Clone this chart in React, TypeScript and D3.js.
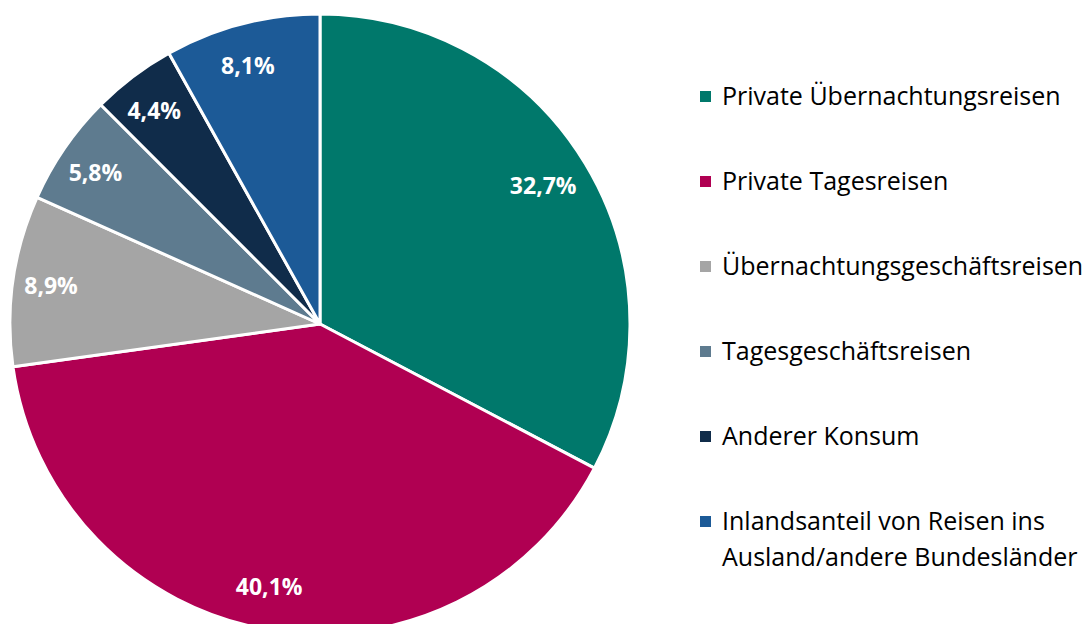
import React, { useEffect, useRef } from 'react'
import * as d3 from 'd3'

const categories = [
  'Private Übernachtungsreisen',
  'Private Tagesreisen',
  'Übernachtungsgeschäftsreisen',
  'Tagesgeschäftsreisen',
  'Anderer Konsum',
  'Inlandsanteil von Reisen ins Ausland/andere Bundesländer',
]
const shares = [32.7, 40.1, 8.9, 5.8, 4.4, 8.1]
const labels = ['32,7%', '40,1%', '8,9%', '5,8%', '4,4%', '8,1%']
const legendLines = [
  ['Private Übernachtungsreisen'],
  ['Private Tagesreisen'],
  ['Übernachtungsgeschäftsreisen'],
  ['Tagesgeschäftsreisen'],
  ['Anderer Konsum'],
  ['Inlandsanteil von Reisen ins', 'Ausland/andere Bundesländer'],
]
const colors = ['#00786B', '#B00052', '#A5A5A5', '#5E7B8F', '#102C4A', '#1C5A97']

const App = () => {
  const svgRef = useRef(null)

  useEffect(() => {
    const width = 1089
    const height = 624
    const cx = 320
    const cy = 324
    const radius = 310
    const fontFamily = '"Open Sans", Lato, sans-serif'

    const svgElement = d3.select(svgRef.current)
    svgElement.selectAll('*').remove()
    const svg = svgElement.attr('width', width).attr('height', height)

    const data = categories.map((c, i) => ({ name: c, value: shares[i], label: labels[i], color: colors[i] }))

    const pie = d3.pie().value((d) => d.value).sort(null)
    const arc = d3.arc().innerRadius(0).outerRadius(radius)
    const labelArc = d3.arc().innerRadius(radius * 0.86).outerRadius(radius * 0.86)

    const g = svg.append('g').attr('transform', `translate(${cx},${cy})`)
    const arcs = pie(data)

    g.selectAll('path')
      .data(arcs)
      .enter()
      .append('path')
      .attr('d', arc)
      .attr('fill', (d) => d.data.color)
      .attr('stroke', '#fff')
      .attr('stroke-width', 3)
      .attr('stroke-linejoin', 'round')

    g.selectAll('text.lbl')
      .data(arcs)
      .enter()
      .append('text')
      .attr('class', 'lbl')
      .attr('transform', (d) => {
        const [x, y] = labelArc.centroid(d)
        return `translate(${x - 5},${y})`
      })
      .attr('text-anchor', 'middle')
      .attr('dy', '0.35em')
      .style('font-family', fontFamily)
      .style('font-weight', 700)
      .style('font-size', '23px')
      .style('fill', '#fff')
      .text((d) => d.data.label)

    const legend = svg.append('g').attr('transform', 'translate(700,96)')
    const rowStep = 85
    legendLines.forEach((lines, i) => {
      const row = legend.append('g').attr('transform', `translate(0,${i * rowStep})`)
      row.append('rect')
        .attr('x', 0)
        .attr('y', -5)
        .attr('width', 11)
        .attr('height', 11)
        .attr('fill', colors[i])
      lines.forEach((line, j) => {
        row.append('text')
          .attr('x', 22)
          .attr('y', j * 36)
          .attr('dy', '0.35em')
          .style('font-family', fontFamily)
          .style('font-size', '25px')
          .style('fill', '#000')
          .text(line)
      })
    })
  }, [])

  return (
    <svg
      ref={svgRef}
      style={{ position: 'absolute', left: 0, top: 0, display: 'block', background: '#fff' }}
    ></svg>
  )
}

export default App
